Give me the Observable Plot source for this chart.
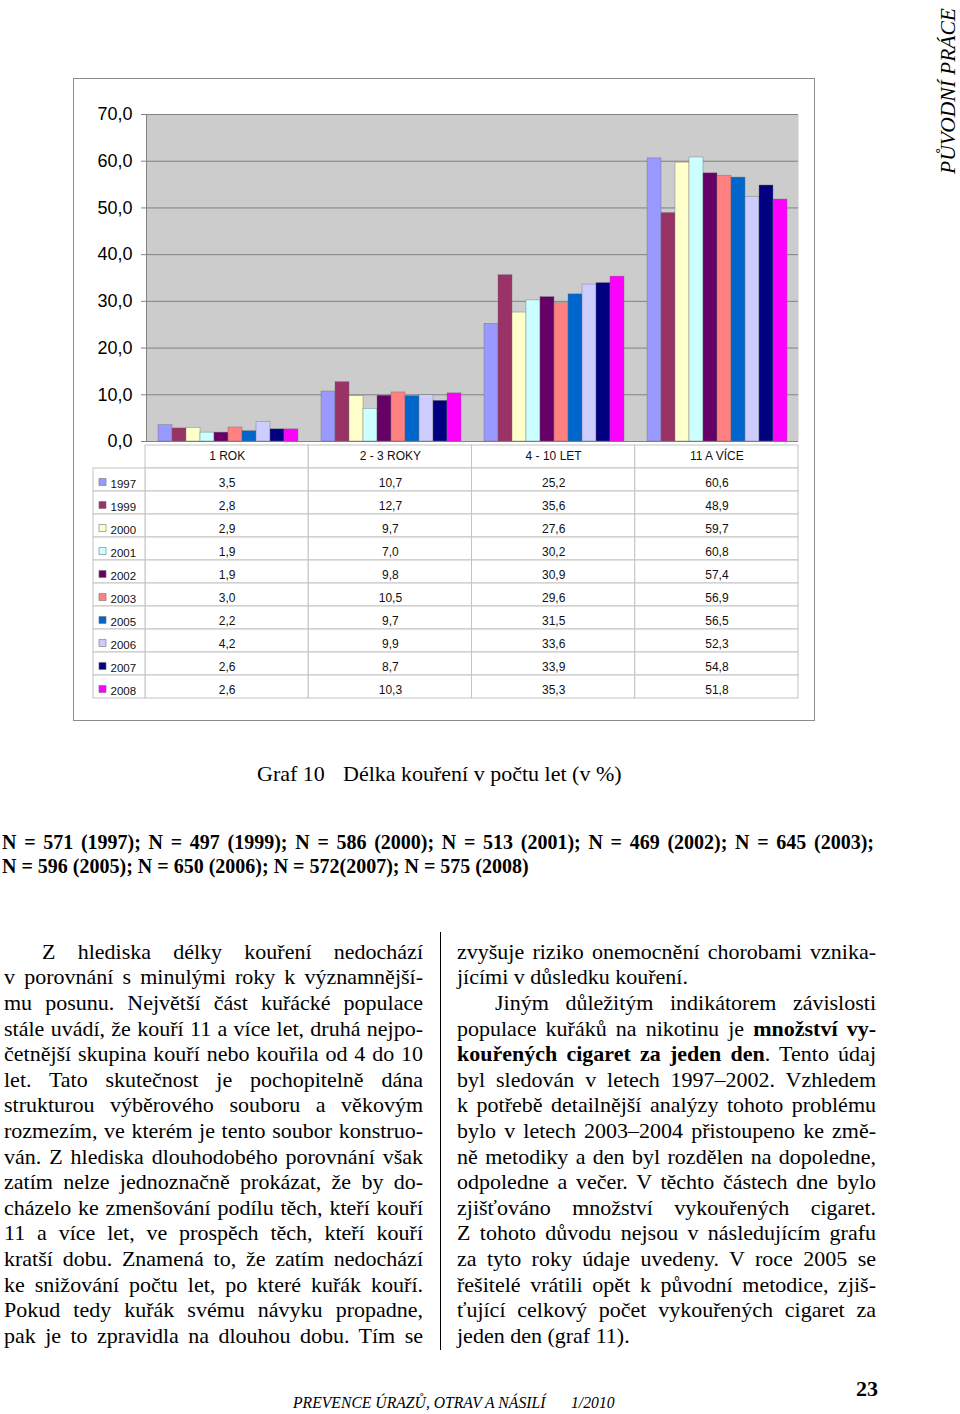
<!DOCTYPE html>
<html><head><meta charset="utf-8">
<script src="https://cdn.jsdelivr.net/npm/d3@7"></script>
<script src="https://cdn.jsdelivr.net/npm/@observablehq/plot@0.6"></script>
<style>
html,body{margin:0;padding:0;background:#fff;}
#page{position:relative;width:960px;height:1414px;overflow:hidden;font-family:"Liberation Serif","Times New Roman",serif;color:#000;}
.abs{position:absolute;white-space:nowrap;}
.line{position:absolute;width:419px;height:25.6px;line-height:25.6px;font-size:22px;white-space:nowrap;}
.just{text-align:justify;text-align-last:justify;white-space:normal;}
.ind{text-indent:38px;}
</style></head><body><div id="page"></div>
<script>
// ---------- data ----------
const categories = ["1 ROK", "2 - 3 ROKY", "4 - 10 LET", "11 A VÍCE"];
const years = ["1997", "1999", "2000", "2001", "2002", "2003", "2005", "2006", "2007", "2008"];
const rok1   = [3.5, 2.8, 2.9, 1.9, 1.9, 3.0, 2.2, 4.2, 2.6, 2.6];
const roky23 = [10.7, 12.7, 9.7, 7.0, 9.8, 10.5, 9.7, 9.9, 8.7, 10.3];
const let410 = [25.2, 35.6, 27.6, 30.2, 30.9, 29.6, 31.5, 33.6, 33.9, 35.3];
const vice11 = [60.6, 48.9, 59.7, 60.8, 57.4, 56.9, 56.5, 52.3, 54.8, 51.8];
const colors = ["#9999FF", "#993366", "#FFFFCC", "#CCFFFF", "#660066", "#FF8080", "#0066CC", "#CCCCFF", "#000080", "#FF00FF"];
const yTicks = [0, 10, 20, 30, 40, 50, 60, 70];

const series = [rok1, roky23, let410, vice11];
const data = categories.flatMap((c, i) => years.map((y, j) => ({cat: c, i, year: y, value: series[i][j]})));
const fmt = v => v.toFixed(1).replace(".", ",");

const page = document.getElementById("page");
function add(html, css, cls) {
  const d = document.createElement("div");
  d.className = cls || "abs";
  d.innerHTML = html;
  Object.assign(d.style, css);
  page.appendChild(d);
  return d;
}

// ---------- chart frame ----------
add("", {left: "73px", top: "78px", width: "742px", height: "643px", boxSizing: "border-box", border: "1px solid #8c8c8c"});

const sans = '"Liberation Sans", Arial, Helvetica, sans-serif';

// data table (drawn first, under the bars plot)
const LEG = 52 / 163.25;
const rows = ["hdr", ...years];
const heads = categories.map((c, i) => ({i, row: "hdr", label: c}));
const vals = categories.flatMap((c, i) => years.map((y, j) => ({i, row: y, label: fmt(series[i][j])})));
const table = Plot.plot({
  width: 742, height: 260,
  marginLeft: 20, marginRight: 17, marginTop: 0, marginBottom: 0,
  style: {background: "transparent", overflow: "visible", fontFamily: sans, fontSize: "12px", color: "#000"},
  x: {domain: [-LEG, 4], axis: null},
  y: {domain: rows, padding: 0, axis: null},
  color: {domain: years, range: colors},
  marks: [
    Plot.barX([...heads, ...vals], {x1: "i", x2: d => d.i + 1, y: "row", fill: "white", stroke: "#c3c3c3", inset: 0}),
    Plot.barX(years, {x1: () => -LEG, x2: () => 0, y: d => d, fill: "white", stroke: "#c3c3c3", inset: 0}),
    Plot.text(heads, {x: d => d.i + 0.5, y: "row", text: "label", dy: -1, fill: "#111"}),
    Plot.text(vals, {x: d => d.i + 0.5, y: "row", text: "label", dy: 3, fill: "#111"}),
    Plot.dot(years, {x: () => -LEG, y: d => d, dx: 9, dy: 2, symbol: "square", r: 4, fill: d => d, stroke: "#777", strokeWidth: 0.6}),
    Plot.text(years, {x: () => -LEG, y: d => d, dx: 17, dy: 4, text: d => d, textAnchor: "start", fontSize: 11.5, fill: "#111"})
  ]
});
const tWrap = add("", {left: "73px", top: "441px"});
tWrap.appendChild(table);

// bars
const bars = Plot.plot({
  width: 742, height: 380,
  marginLeft: 72, marginRight: 17, marginTop: 36, marginBottom: 17,
  style: {background: "transparent", overflow: "visible", fontFamily: sans, fontSize: "18px", color: "#000"},
  fx: {domain: categories, padding: 0, axis: null, label: null},
  x: {domain: years, paddingInner: 0, paddingOuter: 0.7, axis: null},
  y: {domain: [0, 70], axis: null},
  color: {domain: years, range: colors},
  marks: [
    Plot.frame({facet: "super", fill: "#cccccc", stroke: null}),
    Plot.ruleY(yTicks, {stroke: "#828282", strokeWidth: 1}),
    Plot.barY(data, {fx: "cat", x: "year", y: "value", fill: "year", stroke: "#707070", strokeWidth: 0.5, strokeOpacity: 0.8, inset: 0}),
    Plot.frame({facet: "super", anchor: "left", stroke: "#828282"}),
    Plot.axisY(yTicks, {tickFormat: fmt, tickSize: 5, tickPadding: 9, stroke: "#828282", fill: "#000", fontSize: 18, label: null})
  ]
});
const bWrap = add("", {left: "73px", top: "78px"});
bWrap.appendChild(bars);

// ---------- caption ----------
add("Graf 10", {left: "257px", top: "762.6px", fontSize: "22px", lineHeight: "22px"});
add("Délka kouření v počtu let (v %)", {left: "343px", top: "762.6px", fontSize: "22px", lineHeight: "22px"});

add("N = 571 (1997); N = 497 (1999); N = 586 (2000); N = 513 (2001); N = 469 (2002); N = 645 (2003);",
  {left: "2px", top: "832.2px", width: "872px", fontSize: "20px", lineHeight: "20px", fontWeight: "bold", textAlign: "justify", textAlignLast: "justify", whiteSpace: "normal"});
add("N = 596 (2005); N = 650 (2006); N = 572(2007); N = 575 (2008)",
  {left: "2px", top: "856.2px", fontSize: "20px", lineHeight: "20px", fontWeight: "bold"});

// ---------- body text ----------
const leftLines = [
  ["Z hlediska délky kouření nedochází", "just ind"],
  ["v porovnání s minulými roky k významnější-", "just"],
  ["mu posunu. Největší část kuřácké populace", "just"],
  ["stále uvádí, že kouří 11 a více let, druhá nejpo-", "just"],
  ["četnější skupina kouří nebo kouřila od 4 do 10", "just"],
  ["let. Tato skutečnost je pochopitelně dána", "just"],
  ["strukturou výběrového souboru a věkovým", "just"],
  ["rozmezím, ve kterém je tento soubor konstruo-", "just"],
  ["ván. Z hlediska dlouhodobého porovnání však", "just"],
  ["zatím nelze jednoznačně prokázat, že by do-", "just"],
  ["cházelo ke zmenšování podílu těch, kteří kouří", "just"],
  ["11 a více let, ve prospěch těch, kteří kouří", "just"],
  ["kratší dobu. Znamená to, že zatím nedochází", "just"],
  ["ke snižování počtu let, po které kuřák kouří.", "just"],
  ["Pokud tedy kuřák svému návyku propadne,", "just"],
  ["pak je to zpravidla na dlouhou dobu. Tím se", "just"]
];
const rightLines = [
  ["zvyšuje riziko onemocnění chorobami vznika-", "just"],
  ["jícími v důsledku kouření.", ""],
  ["Jiným důležitým indikátorem závislosti", "just ind"],
  ["populace kuřáků na nikotinu je <b>množství vy-</b>", "just"],
  ["<b>kouřených cigaret za jeden den</b>. Tento údaj", "just"],
  ["byl sledován v letech 1997–2002. Vzhledem", "just"],
  ["k potřebě detailnější analýzy tohoto problému", "just"],
  ["bylo v letech 2003–2004 přistoupeno ke změ-", "just"],
  ["ně metodiky a den byl rozdělen na dopoledne,", "just"],
  ["odpoledne a večer. V těchto částech dne bylo", "just"],
  ["zjišťováno množství vykouřených cigaret.", "just"],
  ["Z tohoto důvodu nejsou v následujícím grafu", "just"],
  ["za tyto roky údaje uvedeny. V roce 2005 se", "just"],
  ["řešitelé vrátili opět k původní metodice, zjiš-", "just"],
  ["ťující celkový počet vykouřených cigaret za", "just"],
  ["jeden den (graf 11).", ""]
];
const bodyTop = 938.8, lh = 25.6;
leftLines.forEach(([t, c], k) => add(t, {left: "4px", top: (bodyTop + k * lh) + "px"}, "line " + c));
rightLines.forEach(([t, c], k) => add(t, {left: "457px", top: (bodyTop + k * lh) + "px"}, "line " + c));
add("", {left: "440px", top: "932px", width: "1px", height: "418px", background: "#000"});

// ---------- running head / foot ----------
add("PŮVODNÍ PRÁCE", {left: "939px", top: "174px", fontSize: "21.5px", lineHeight: "18px", fontStyle: "italic", transformOrigin: "0 0", transform: "rotate(-90deg)"});
add("PREVENCE ÚRAZŮ, OTRAV A NÁSILÍ", {left: "293px", top: "1394.8px", fontSize: "15.7px", lineHeight: "16px", fontStyle: "italic"});
add("1/2010", {left: "571px", top: "1394.8px", fontSize: "15.7px", lineHeight: "16px", fontStyle: "italic"});
add("23", {left: "856px", top: "1377.6px", fontSize: "22px", lineHeight: "22px", fontWeight: "bold"});
</script></body></html>
